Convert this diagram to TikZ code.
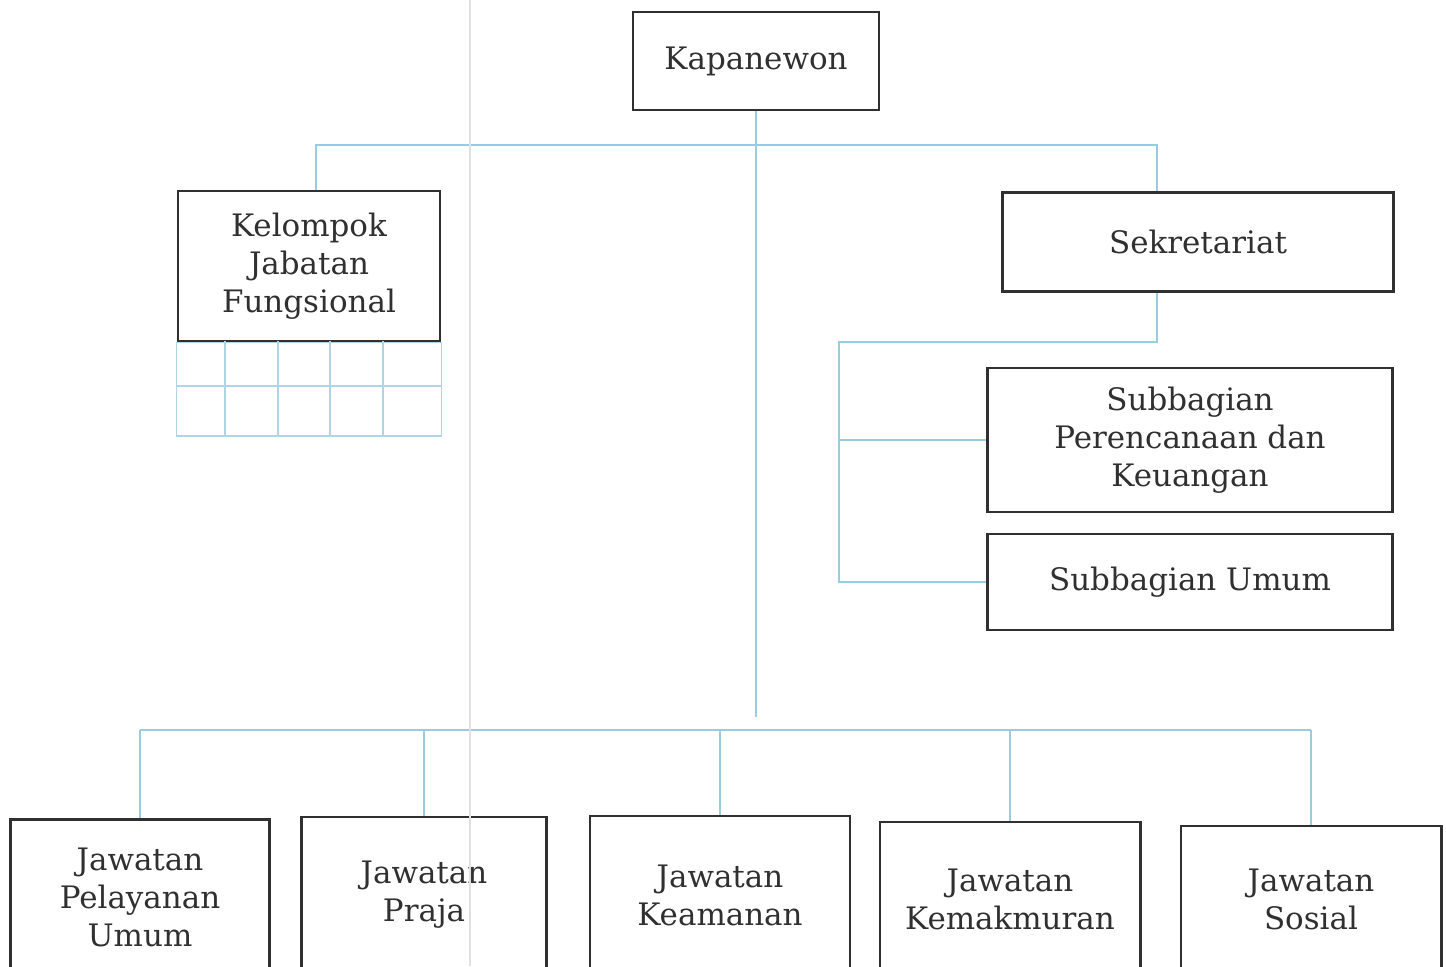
\documentclass[tikz,border=0pt]{standalone}
\usepackage{fontspec}
\setmainfont{DejaVu Serif}
\definecolor{linkblue}{HTML}{9ACCE0}
\definecolor{boxgray}{HTML}{303030}
\newcommand\unitfont{\fontsize{8.8}{10.8}\selectfont}

\begin{document}
\begin{tikzpicture}[x=0.01cm,y=-0.01cm]
  \tikzstyle{unit}=[
       draw=boxgray,
       text=boxgray,
       line width=0.8pt,
       align=center,
       inner sep=0pt,
       font=\unitfont]
  \tikzstyle{link}=[draw=linkblue, line width=0.6pt]
  \tikzstyle{cell}=[draw=linkblue!80, line width=0.5pt]
  \clip (0,0) rectangle (1446,966);
  \fill[white] (0,0) rectangle (1446,966);

  % top level
  \node[unit, minimum width=2.46cm, minimum height=0.98cm] (kapanewon) at (756,61) {Kapanewon};
  \node[unit, minimum width=2.62cm, minimum height=1.50cm] (jabfung) at (309,266)
       {Kelompok\\Jabatan\\Fungsional};
  \node[unit, minimum width=3.90cm, minimum height=0.99cm] (sekretariat) at (1198,242) {Sekretariat};
  \node[unit, minimum width=4.05cm, minimum height=1.44cm] (perencanaan) at (1190,440)
       {Subbagian\\Perencanaan dan\\Keuangan};
  \node[unit, minimum width=4.05cm, minimum height=0.96cm] (umum) at (1190,582) {Subbagian Umum};

  % jawatan, cut by the lower edge
  \node[unit, minimum width=2.59cm, minimum height=1.55cm] (pelayanan) at (140,897)
       {Jawatan\\Pelayanan\\Umum};
  \node[unit, minimum width=2.45cm, minimum height=1.56cm] (praja) at (424,895) {Jawatan\\Praja};
  \node[unit, minimum width=2.60cm, minimum height=1.58cm] (keamanan) at (720,895) {Jawatan\\Keamanan};
  \node[unit, minimum width=2.60cm, minimum height=1.54cm] (kemakmuran) at (1010,899) {Jawatan\\Kemakmuran};
  \node[unit, minimum width=2.60cm, minimum height=1.46cm] (sosial) at (1311,899) {Jawatan\\Sosial};

  % empty cells below the functional group
  \draw[cell] (jabfung.south west) rectangle (jabfung.south east |- 0,436);
  \draw[cell] (jabfung.south west |- 0,386) -- (jabfung.south east |- 0,386);
  \foreach \gx in {225,278,330,383}
    \draw[cell] (\gx,341) -- (\gx,436);

  % connectors
  \coordinate (busL) at (316,145);
  \coordinate (busR) at (1157,145);
  \coordinate (trunkend) at (756,717);
  \coordinate (sekbus) at (839,342);
  \coordinate (botbus) at (0,730);

  \draw[link] (kapanewon.south) -- (trunkend);
  \draw[link] (jabfung.north -| busL) -- (busL) -- (busR) -- (sekretariat.north -| busR);
  \draw[link] (sekretariat.south -| busR) |- (sekbus) |- (umum.west);
  \draw[link] (sekbus |- perencanaan.west) -- (perencanaan.west);

  \draw[link] (pelayanan.north |- botbus) -- (sosial.north |- botbus);
  \foreach \n in {pelayanan,praja,keamanan,kemakmuran,sosial}
    \draw[link] (\n.north |- botbus) -- (\n.north);

  % fold of the scanned page
  \draw[black!12, line width=0.5pt] (470,0) -- (470,966);
\end{tikzpicture}
\end{document}
